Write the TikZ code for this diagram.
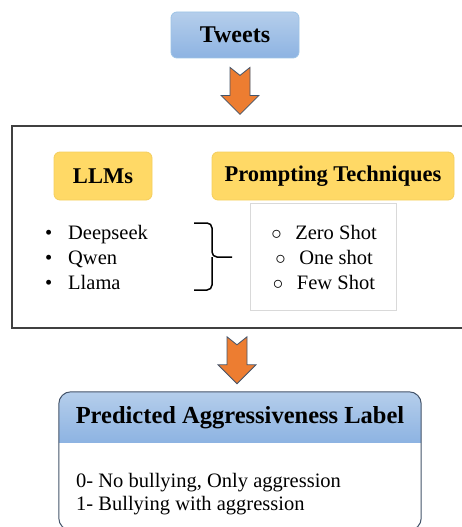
\documentclass[tikz,border=0pt]{standalone}
\usepackage{fontspec}
\setmainfont{Liberation Serif}
\usepackage{tikz}
\usetikzlibrary{calc}
\definecolor{bluetop}{HTML}{B5CEEB}
\definecolor{bluebot}{HTML}{8DB3E2}
\definecolor{blueline}{HTML}{9DC3E6}
\definecolor{yellowfill}{HTML}{FFD966}
\definecolor{yellowline}{HTML}{F4CE5E}
\definecolor{arroworange}{HTML}{ED7D31}
\definecolor{arrowline}{HTML}{44546A}
\definecolor{frameline}{HTML}{404040}
\definecolor{shotline}{HTML}{D9D9D9}
\definecolor{labelline}{HTML}{44546A}

\begin{document}
\begin{tikzpicture}[x=1pt, y=-1pt,
  bluebox/.style={draw=blueline, line width=0.8pt, rounded corners=6pt, top color=bluetop, bottom color=bluebot},
  yellowbox/.style={draw=yellowline, line width=0.8pt, fill=yellowfill, rounded corners=6pt, minimum height=48pt},
  head/.style={font=\fontsize{22.5}{27}\selectfont\bfseries},
  body/.style={font=\fontsize{20.5}{25}\selectfont, align=left, inner sep=0pt},
  downarrow/.style={draw=arrowline, fill=arroworange, line width=0.8pt, line join=miter}]
  \useasboundingbox (0,0) rectangle (462,527);
  \clip (0,0) rectangle (462,527);

  % input
  \node[bluebox, head, font=\fontsize{24}{28}\selectfont\bfseries, minimum width=128pt, minimum height=46pt] (tweets) at (235,35) {Tweets};

  % models and prompts
  \node[draw=frameline, line width=1.5pt, minimum width=458pt, minimum height=202pt, inner sep=0pt] (frame) at (241,227) {};
  \node[yellowbox, head, minimum width=98pt] (llms) at (103,176) {LLMs};
  \node[yellowbox, head, minimum width=242pt] (prompt) at (333,176) {Prompting Techniques};
  \node[body, anchor=base west] (llmlist) at (45,289) {\makebox[23pt][l]{\textbullet}Deepseek\\
    \makebox[23pt][l]{\textbullet}Qwen\\
    \makebox[23pt][l]{\textbullet}Llama};
  \node[draw=shotline, line width=0.8pt, minimum width=146pt, minimum height=107pt] (shotbox) at (323,256.5) {};
  \node[body, align=center, anchor=base] (shots) at (324,289) {\makebox[24pt][l]{$\circ$}Zero Shot\\
    \makebox[24pt][l]{$\circ$}One shot\\
    \makebox[24pt][l]{$\circ$}Few Shot};
  \draw[line width=1.5pt, rounded corners=5pt] (194,223) -- (212,223) -- (212,257) -- (232,257);
  \draw[line width=1.5pt, rounded corners=5pt] (194,290) -- (212,290) -- (212,257);

  % output
  \node[minimum width=362pt, minimum height=138pt, inner sep=0pt] (labelbox) at (240,461) {};
  \begin{scope}
    \clip[rounded corners=12pt] (labelbox.north west) rectangle (labelbox.south east);
    \shade[top color=bluetop, bottom color=bluebot] (labelbox.north west) rectangle ($(labelbox.north east)+(0,51)$);
  \end{scope}
  \draw[draw=labelline, line width=1pt, rounded corners=12pt] (labelbox.north west) rectangle (labelbox.south east);
  \node[head, font=\fontsize{24.5}{29}\selectfont\bfseries] (labelhead) at ($(labelbox.north)+(0,25.5)$) {Predicted Aggressiveness Label};
  \node[body, font=\fontsize{20.5}{23}\selectfont, anchor=base west] (classes) at (76,510) {0- No bullying, Only aggression\\
    1- Bullying with aggression};

  % arrows
  \coordinate (a1) at ($(tweets.south)+(5,9)$);
  \coordinate (a2) at ($(labelbox.north)+(-3,-55)$);
  \draw[downarrow] (a1) ++(-10,0) -- ++(10,8) -- ++(10,-8) -- ++(0,28) -- ++(9,0) -- ++(-19,19) -- ++(-19,-19) -- ++(9,0) -- cycle;
  \draw[downarrow] (a2) ++(-10,0) -- ++(10,8) -- ++(10,-8) -- ++(0,28) -- ++(9,0) -- ++(-19,19) -- ++(-19,-19) -- ++(9,0) -- cycle;
\end{tikzpicture}
\end{document}
